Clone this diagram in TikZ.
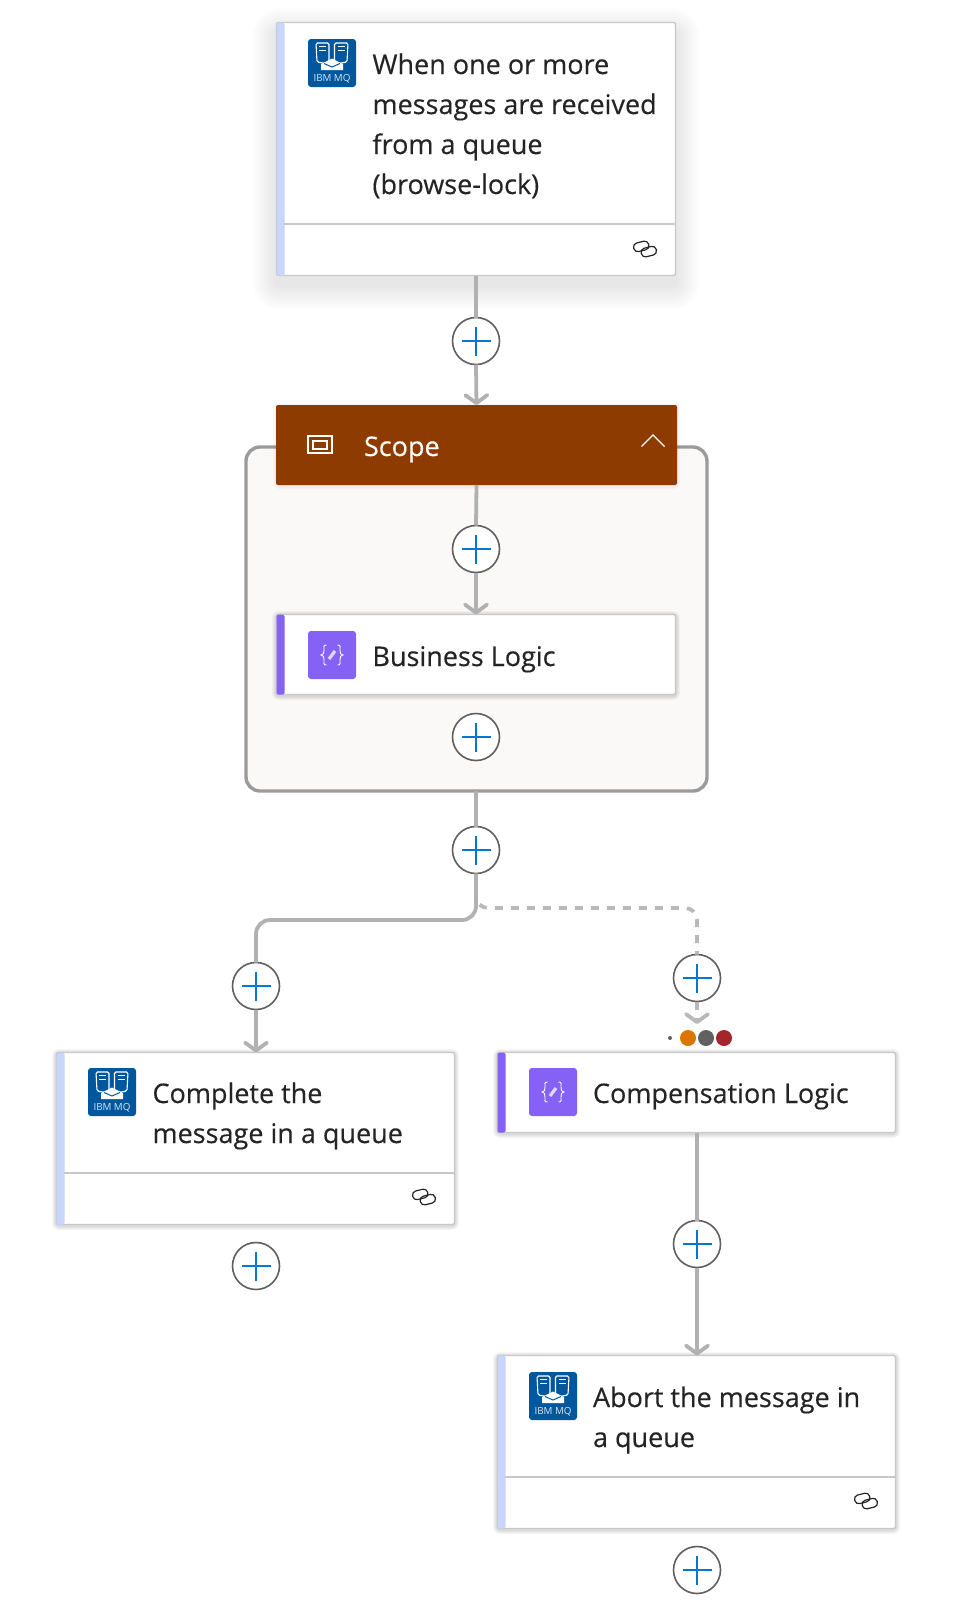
\documentclass[tikz,border=0pt]{standalone}
\usepackage{fontspec}
\setmainfont{Open Sans}
\newfontfamily\cardfont[FakeBold=0.3]{Open Sans}
\usetikzlibrary{arrows.meta}
\definecolor{inktext}{HTML}{242424}
\definecolor{wire}{HTML}{B1B1B1}
\definecolor{wiredash}{HTML}{B9B9B9}
\definecolor{cardline}{HTML}{C8C8C8}
\definecolor{barblue}{HTML}{C9D6FB}
\definecolor{barpurple}{HTML}{8661F5}
\definecolor{ibmblue}{HTML}{00579E}
\definecolor{scopebrown}{HTML}{8E3B00}
\definecolor{scopeframe}{HTML}{9B9B9B}
\definecolor{scopefill}{HTML}{FAF9F8}
\definecolor{plusblue}{HTML}{0078D4}
\definecolor{plusring}{HTML}{5F5F5F}
\definecolor{dotorange}{HTML}{DB7500}
\definecolor{dotgrey}{HTML}{616161}
\definecolor{dotred}{HTML}{A4262C}
\tikzset{
  cardbox/.style={rectangle,rounded corners=2,draw=cardline,line width=1.4,fill=white,inner sep=0,outer sep=0,anchor=north west},
  iconbox/.style={rectangle,rounded corners=3,inner sep=0,outer sep=0,minimum width=48,minimum height=48,anchor=north west},
  cardtext/.style={anchor=base west,align=left,inner sep=0,outer sep=0,text=inktext,font=\cardfont\fontsize{27}{40}\selectfont},
  plusnode/.style={circle,draw=plusring,line width=1.6,fill=white,minimum size=47,inner sep=0,outer sep=0,
    path picture={\draw[plusblue,line width=2.4] ([xshift=-14.5]path picture bounding box.center) -- ([xshift=14.5]path picture bounding box.center);
                  \draw[plusblue,line width=2.4] ([yshift=-14.5]path picture bounding box.center) -- ([yshift=14.5]path picture bounding box.center);}},
  wireline/.style={draw=wire,line width=3.8},
  wirearrow/.style={wireline,-{Straight Barb[round,length=8,width=22,line width=3.8]}},
  dashline/.style={draw=wiredash,line width=3.8,dash pattern=on 8 off 8},
  dotnode/.style={circle,inner sep=0,outer sep=0,minimum size=16},
}
% soft shadow of a card: x1 y1 x2 y2 spread offset opacity
\newcommand{\softshadow}[7]{%
  \foreach \k in {1,...,#5}{%
    \fill[black,opacity=#7,rounded corners=3+\k] (#1-\k,#2-\k+#6) rectangle (#3+\k,#4+\k+#6);}%
}
\newcommand{\ibmglyph}[3]{% name x y
  \node[iconbox,fill=ibmblue] (#1) at (#2,#3) {};
  \begin{scope}[shift={(#2,#3)},draw=white,line width=1.1]
    \draw[rounded corners=1.5] (20.5,25) -- (9,23) -- (8,4) -- (21,4) -- (21,22);
    \draw[rounded corners=1.5] (27,25) -- (39,23) -- (40,4) -- (26.5,4) -- (26.5,22);
    \draw[line width=1] (11,7.5) -- (18,7.5) (11,11) -- (18,11) (29.5,7.5) -- (36.5,7.5) (29.5,11) -- (36.5,11);
    \fill[white] (13,25) -- (24,19.5) -- (35,25) -- (35,31) -- (13,31) -- cycle;
    \draw[ibmblue,line width=1] (16,24.5) -- (24,28) -- (32,24.5);
    \node[inner sep=0,text=white,opacity=.85,font=\fontsize{9.8}{10}\selectfont] (#1label) at (24,39.5) {IBM MQ};
  \end{scope}}
\newcommand{\codeglyph}[3]{% name x y
  \node[iconbox,fill=barpurple] (#1) at (#2,#3) {};
  \begin{scope}[shift={(#2,#3)},draw=white,line width=.9]
    \draw (18.5,14) .. controls (15,14) and (16,16) .. (16,19) .. controls (16,22) and (15.5,24) .. (13,24) .. controls (15.5,24) and (16,26) .. (16,29) .. controls (16,32) and (15,34) .. (18.5,34);
    \draw (29.5,14) .. controls (33,14) and (32,16) .. (32,19) .. controls (32,22) and (32.5,24) .. (35,24) .. controls (32.5,24) and (32,26) .. (32,29) .. controls (32,32) and (33,34) .. (29.5,34);
    \draw[white,opacity=.75,line width=3.2] (21,28) -- (27,20);
  \end{scope}}
\newcommand{\linkglyph}[2]{% cx cy
  \begin{scope}[shift={(#1,#2)},draw=inktext,line width=1.2]
    \draw[rounded corners=4,rotate around={14:(-3.8,-2.6)}] (-11.5,-7) rectangle (3.9,1.8);
    \draw[rounded corners=4,rotate around={14:(3.8,2.6)}] (-3.9,-1.8) rectangle (11.5,7);
  \end{scope}}
\begin{document}
\begin{tikzpicture}[x=1pt,y=-1pt]
\useasboundingbox (0,0) rectangle (957,1620);
\fill[white] (0,0) rectangle (957,1620);

% scope frame
\node[rectangle,rounded corners=14,draw=scopeframe,line width=3.4,fill=scopefill,inner sep=0,outer sep=0,anchor=north west,minimum width=461,minimum height=344] (frame) at (246,447) {};

% shadows
\softshadow{276}{22}{676}{276}{24}{10}{.0045}
\softshadow{276}{405}{677}{485}{3}{1}{.02}
\softshadow{276}{614}{676}{695}{4}{1}{.035}
\softshadow{56}{1052}{455}{1225}{4}{1}{.035}
\softshadow{497}{1052}{896}{1133}{4}{1}{.035}
\softshadow{497}{1355}{896}{1529}{4}{1}{.035}

% cards
\node[cardbox,minimum width=399,minimum height=253] (trigger) at (276.5,22.5) {};
\node[rectangle,rounded corners=2,fill=scopebrown,inner sep=0,outer sep=0,anchor=north west,minimum width=401,minimum height=80] (scopehead) at (276,405) {};
\node[cardbox,minimum width=399,minimum height=80] (business) at (276.5,614.5) {};
\node[cardbox,minimum width=398,minimum height=172] (complete) at (56.5,1052.5) {};
\node[cardbox,minimum width=398,minimum height=80] (compensate) at (497.5,1052.5) {};
\node[cardbox,minimum width=398,minimum height=173] (abort) at (497.5,1355.5) {};

% side bars
\fill[barblue,rounded corners=1.5] (trigger.north west) rectangle ([xshift=8]trigger.south west);
\fill[barpurple,rounded corners=1.5] (business.north west) rectangle ([xshift=8]business.south west);
\fill[barblue,rounded corners=1.5] (complete.north west) rectangle ([xshift=8]complete.south west);
\fill[barpurple,rounded corners=1.5] (compensate.north west) rectangle ([xshift=8]compensate.south west);
\fill[barblue,rounded corners=1.5] (abort.north west) rectangle ([xshift=8]abort.south west);

% dividers
\draw[cardline,line width=1.4] (284,224) -- (676,224);
\draw[cardline,line width=1.4] (64,1173) -- (455,1173);
\draw[cardline,line width=1.4] (505,1477) -- (896,1477);

% plus buttons
\node[plusnode] (plusa) at (476,341) {};
\node[plusnode] (plusb) at (476,549) {};
\node[plusnode] (plusc) at (476,737) {};
\node[plusnode] (plusd) at (476,850) {};
\node[plusnode] (pluse) at (256,986) {};
\node[plusnode] (plusf) at (697,978) {};
\node[plusnode] (plusg) at (256,1266) {};
\node[plusnode] (plush) at (697,1244) {};
\node[plusnode] (plusi) at (697,1570) {};

% connectors
\draw[wireline] (trigger.south -| plusa.north) -- (plusa.north);
\draw[wirearrow] (plusa.south) -- (scopehead.north);
\draw[wireline] (scopehead.south) -- (plusb.north);
\draw[wirearrow] (plusb.south) -- (business.north -| plusb.south);
\draw[wireline] (frame.south -| plusd.north) -- (plusd.north);

\coordinate (dashturn) at (697,908);
\coordinate (dashtip) at (697,1024);
\coordinate (solidturn) at (256,920);
\draw[dashline,rounded corners=12] (plusd.south) |- (dashturn) -- (plusf.north);
\draw[dashline,-{Straight Barb[round,length=8,width=22,line width=3.8]}] (plusf.south) -- (dashtip);
\draw[wireline,rounded corners=14] (plusd.south) |- (solidturn) -- (pluse.north);
\draw[wirearrow] (pluse.south) -- (complete.north -| pluse.south);
\draw[wireline] (compensate.south -| plush.north) -- (plush.north);
\draw[wirearrow] (plush.south) -- (abort.north -| plush.south);

% status dots
\node[circle,fill=dotgrey,inner sep=0,minimum size=4] (dotsmall) at (670,1038) {};
\node[dotnode,fill=dotorange] (dotone) at (688,1038) {};
\node[dotnode,fill=dotgrey] (dottwo) at (706,1038) {};
\node[dotnode,fill=dotred] (dotthree) at (724,1038) {};

% icons
\ibmglyph{icontrigger}{308}{39}
\ibmglyph{iconcomplete}{88}{1068}
\ibmglyph{iconabort}{529}{1372}
\codeglyph{iconbusiness}{308}{631}
\codeglyph{iconcompensate}{529}{1068}

\draw[white,line width=1.1] (308,436) rectangle (332,453);
\draw[white,line width=1.1] (313,441) rectangle (327,449);
\draw[white,line width=1.2] (641.5,446.5) -- (653,435) -- (664.5,446.5);

\linkglyph{645}{249}
\linkglyph{424}{1197}
\linkglyph{866}{1501}

% texts
\node[cardtext] (ttrigger) at (372.5,194) {When one or more\\messages are received\\from a queue\\(browse-lock)};
\node[cardtext,text=white] (tscope) at (364,456) {Scope};
\node[cardtext] (tbusiness) at (372.5,666) {Business Logic};
\node[cardtext] (tcomplete) at (152.5,1143) {Complete the\\message in a queue};
\node[cardtext] (tcompensate) at (593,1103) {Compensation Logic};
\node[cardtext] (tabort) at (593,1447) {Abort the message in\\a queue};
\end{tikzpicture}
\end{document}
